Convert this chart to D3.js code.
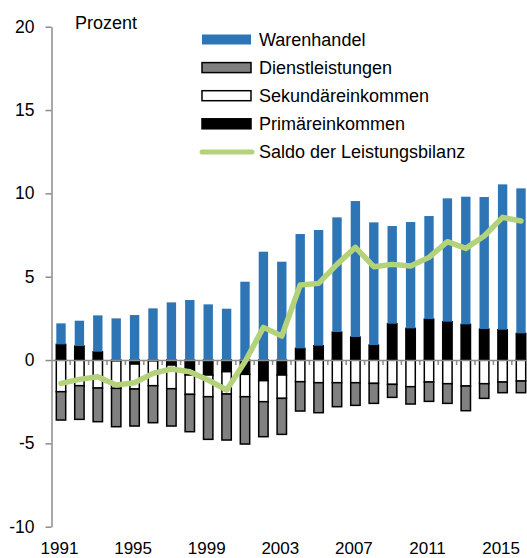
<!DOCTYPE html>
<html>
<head>
<meta charset="utf-8">
<script src="https://cdn.jsdelivr.net/npm/d3@7"></script>
<style>
  body { margin: 0; background: #fff; }
  svg { display: block; font-family: "Liberation Sans", Arial, sans-serif; }
</style>
</head>
<body>
<svg id="chart"></svg>
<script>
const years = d3.range(1991, 2017)
const warenhandel = [1.26, 1.52, 2.18, 2.5, 2.7, 3.1, 3.46, 3.6, 3.34, 3.08, 4.7, 6.5, 5.9,
  6.86, 6.94, 6.88, 8.16, 7.36, 5.86, 6.38, 6.18, 7.4, 7.66, 7.92, 8.72, 8.7]
const dienstleistungen = [-1.7, -2.02, -2.02, -2.3, -2.22, -2.22, -2.24, -2.24, -2.56, -2.76, -2.84, -2.1, -2.16,
  -1.76, -1.8, -1.44, -1.36, -1.2, -0.78, -1.04, -1.16, -1.18, -1.48, -0.88, -0.64, -0.7]
const sekundaer = [-1.9, -1.54, -1.68, -1.65, -1.5, -1.49, -1.42, -1.16, -1.3, -1.34, -1.34, -1.26, -1.4,
  -1.3, -1.36, -1.36, -1.36, -1.4, -1.46, -1.6, -1.32, -1.42, -1.56, -1.42, -1.32, -1.26]
const primaer = [0.94, 0.84, 0.5, -0.05, -0.24, -0.05, -0.3, -0.9, -0.9, -0.7, -0.86, -1.24, -0.9,
  0.7, 0.86, 1.68, 1.38, 0.9, 2.18, 1.9, 2.46, 2.3, 2.14, 1.86, 1.82, 1.6]
const saldo = [-1.4, -1.16, -1.0, -1.5, -1.36, -0.8, -0.54, -0.7, -1.2, -1.8, -0.1, 1.96, 1.44,
  4.5, 4.6, 5.74, 6.76, 5.6, 5.74, 5.64, 6.16, 7.1, 6.7, 7.44, 8.56, 8.34]
const yTicks = [-10, -5, 0, 5, 10, 15, 20]
const xLabelYears = [1991, 1995, 1999, 2003, 2007, 2011, 2015]

const width = 527
const height = 558
const svg = d3.select('#chart').attr('width', width).attr('height', height)

// stacking order: primary nearest zero, then goods up / secondary, services down
const keys = ['primaer', 'sekundaer', 'dienst', 'waren']
const styles = {
  waren: {fill: '#2e75b6', stroke: 'none'},
  primaer: {fill: '#000000', stroke: '#000000'},
  sekundaer: {fill: '#ffffff', stroke: '#000000'},
  dienst: {fill: '#808080', stroke: '#000000'}
}
const rows = years.map((y, i) => ({
  year: y, waren: warenhandel[i], dienst: dienstleistungen[i],
  sekundaer: sekundaer[i], primaer: primaer[i]
}))
const series = d3.stack().keys(keys).offset(d3.stackOffsetDiverging)(rows)

const xScale = d3.scaleBand()
  .domain(years)
  .range([51.8, 51.8 + 18.4 * years.length])
  .paddingInner(0.49)
  .paddingOuter(0.245)
const yScale = d3.scaleLinear().domain([-10, 20]).range([526.7, 26.7])

// y axis
const yAxis = svg.append('g').attr('transform', 'translate(51.5,0)')
  .call(d3.axisLeft(yScale).tickValues(yTicks).tickSize(6).tickSizeOuter(0)
    .tickFormat((d) => String(d)))
yAxis.select('.domain').attr('stroke', '#8c8c8c').attr('stroke-width', 1.5)
yAxis.selectAll('.tick line').attr('stroke', '#8c8c8c').attr('stroke-width', 1.5)
yAxis.selectAll('.tick text').attr('x', -17).attr('font-size', 17.5).attr('fill', '#000')
  .attr('font-family', '"Liberation Sans", Arial, sans-serif')

svg.append('text').attr('x', 75).attr('y', 28.5).attr('font-size', 18).text('Prozent')

// bars
svg.append('g').selectAll('g')
  .data(series)
  .enter()
  .append('g')
  .attr('fill', (s) => styles[s.key].fill)
  .attr('stroke', (s) => styles[s.key].stroke)
  .attr('stroke-width', (s) => s.key === 'waren' ? 0 : 1.5)
  .selectAll('rect')
  .data((s) => s)
  .enter()
  .append('rect')
  .attr('x', (d) => xScale(d.data.year))
  .attr('width', xScale.bandwidth())
  .attr('y', (d) => yScale(Math.max(d[0], d[1])))
  .attr('height', (d) => Math.abs(yScale(d[0]) - yScale(d[1])))

// zero line with category ticks
const xAxis = svg.append('g').attr('transform', 'translate(0,' + yScale(0) + ')')
  .call(d3.axisBottom(xScale).tickSize(0).tickFormat(''))
xAxis.select('.domain').attr('stroke', '#8c8c8c').attr('stroke-width', 1.5)
xAxis.selectAll('.tick').remove()
xAxis.selectAll('line.cat')
  .data(years.slice(1))
  .enter()
  .append('line')
  .attr('class', 'cat')
  .attr('x1', (y) => xScale(y) - xScale.step() * xScale.paddingInner() / 2)
  .attr('x2', (y) => xScale(y) - xScale.step() * xScale.paddingInner() / 2)
  .attr('y1', 0).attr('y2', 5)
  .attr('stroke', '#8c8c8c').attr('stroke-width', 1.5)

// x labels
svg.append('g').selectAll('text')
  .data(xLabelYears)
  .enter()
  .append('text')
  .attr('x', (y) => xScale(y) + xScale.bandwidth() / 2 - 1.5)
  .attr('y', 554)
  .attr('text-anchor', 'middle')
  .attr('font-size', 17)
  .text((y) => y)

// saldo line
const line = d3.line()
  .x((d, i) => xScale(years[i]) + xScale.bandwidth() / 2)
  .y((d) => yScale(d))
svg.append('path')
  .datum(saldo)
  .attr('d', line)
  .attr('fill', 'none')
  .attr('stroke', '#b4d27a')
  .attr('stroke-width', 5.5)
  .attr('stroke-linejoin', 'round')
  .attr('stroke-linecap', 'round')

// legend
const legendItems = [
  {label: 'Warenhandel', key: 'waren'},
  {label: 'Dienstleistungen', key: 'dienst'},
  {label: 'Sekundäreinkommen', key: 'sekundaer'},
  {label: 'Primäreinkommen', key: 'primaer'},
  {label: 'Saldo der Leistungsbilanz', key: 'saldo'}
]
const legend = svg.append('g')
const item = legend.selectAll('g')
  .data(legendItems)
  .enter()
  .append('g')
  .attr('transform', (d, i) => 'translate(0,' + (39.5 + i * 28.1) + ')')
item.filter((d) => d.key !== 'saldo')
  .append('rect')
  .attr('x', 202).attr('y', -5).attr('width', 49).attr('height', 10)
  .attr('fill', (d) => styles[d.key].fill)
  .attr('stroke', (d) => styles[d.key].stroke)
  .attr('stroke-width', (d) => d.key === 'waren' ? 0 : 1.5)
item.filter((d) => d.key === 'saldo')
  .append('line')
  .attr('x1', 202).attr('x2', 252).attr('y1', 0).attr('y2', 0)
  .attr('stroke', '#b4d27a').attr('stroke-width', 5).attr('stroke-linecap', 'round')
item.append('text')
  .attr('x', 259).attr('y', 6.5)
  .attr('font-size', 18)
  .text((d) => d.label)
</script>
</body>
</html>
